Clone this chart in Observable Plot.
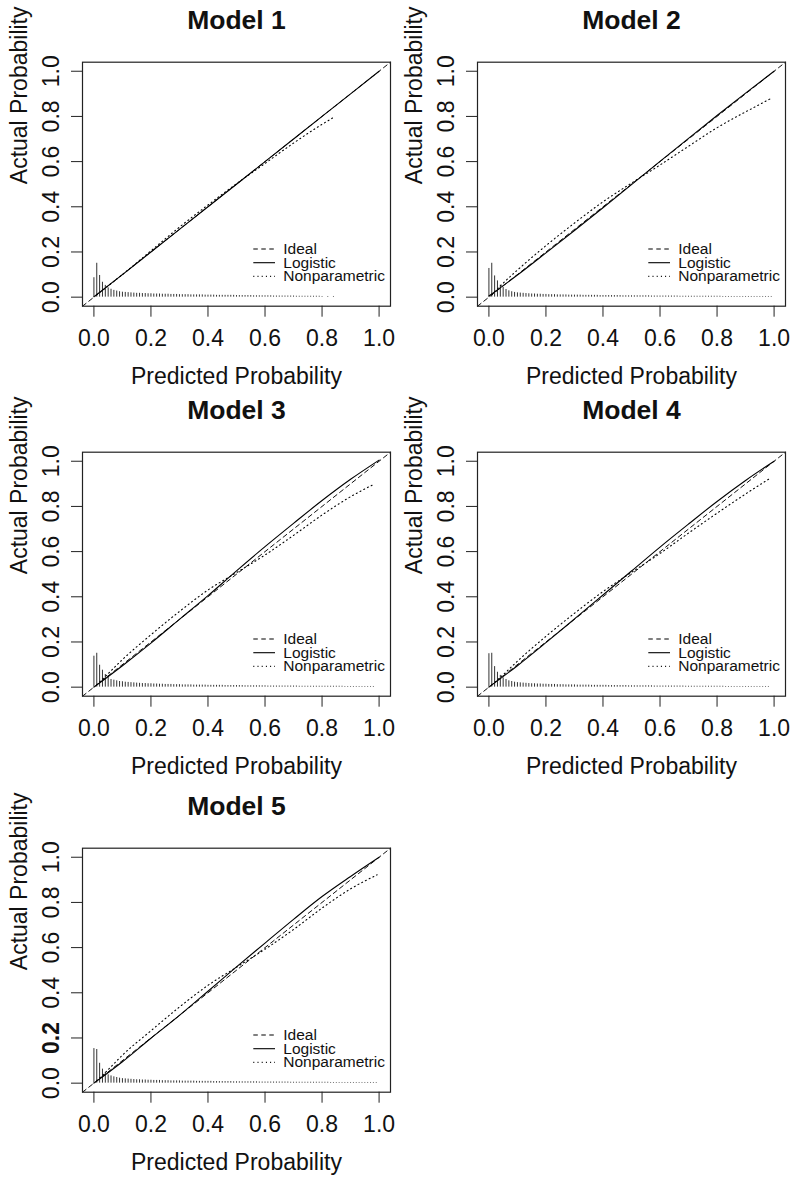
<!DOCTYPE html>
<html><head><meta charset="utf-8">
<script src="https://cdn.jsdelivr.net/npm/d3@7"></script>
<script src="https://cdn.jsdelivr.net/npm/@observablehq/plot@0.6"></script>
<style>
body{margin:0;background:#fff;}
#wrap{position:relative;width:794px;height:1180px;background:#fff;overflow:hidden}
.panel{position:absolute;width:395px;height:393px}
</style></head><body><div id="wrap"></div>
<script>
// ---------- data ----------
const titles = ["Model 1", "Model 2", "Model 3", "Model 4", "Model 5"];
const xLabel = "Predicted Probability";
const yLabel = "Actual Probability";
const xTicks = [0, 0.2, 0.4, 0.6, 0.8, 1.0];
const yTicks = [0, 0.2, 0.4, 0.6, 0.8, 1.0];
const limits = [-0.04, 1.04];
const legendLabels = ["Ideal", "Logistic", "Nonparametric"];
const boldYTicks = [[], [], [], [], [0.2]];

// logistic calibration curves, evaluated at logX
const logX = [0, 0.1, 0.2, 0.3, 0.4, 0.5, 0.6, 0.7, 0.8, 0.9, 1.0];
const log1 = [0.002, 0.1, 0.2, 0.3, 0.4, 0.5, 0.6, 0.7, 0.8, 0.9, 1.0];
const log2 = [0.005, 0.098, 0.196, 0.295, 0.396, 0.498, 0.601, 0.703, 0.804, 0.903, 1.0];
const log3 = [0.0, 0.095, 0.195, 0.3, 0.405, 0.515, 0.622, 0.725, 0.826, 0.92, 1.005];
const log4 = [0.0, 0.095, 0.197, 0.302, 0.408, 0.514, 0.62, 0.722, 0.822, 0.915, 1.0];
const log5 = [0.0, 0.095, 0.199, 0.3, 0.407, 0.515, 0.62, 0.725, 0.826, 0.915, 1.0];

// nonparametric (smoothed) curves
const np1X = [0.01, 0.05, 0.1, 0.2, 0.3, 0.4, 0.5, 0.6, 0.7, 0.8, 0.84];
const np1Y = [0.01, 0.05, 0.1, 0.205, 0.31, 0.408, 0.502, 0.592, 0.682, 0.765, 0.795];
const np2X = [0.01, 0.05, 0.1, 0.2, 0.3, 0.4, 0.5, 0.6, 0.7, 0.8, 0.9, 0.99];
const np2Y = [0.01, 0.062, 0.12, 0.228, 0.328, 0.422, 0.505, 0.585, 0.668, 0.75, 0.82, 0.88];
const np3X = [0.01, 0.05, 0.1, 0.2, 0.3, 0.4, 0.5, 0.6, 0.7, 0.8, 0.9, 0.985];
const np3Y = [0.01, 0.06, 0.122, 0.232, 0.335, 0.43, 0.507, 0.585, 0.672, 0.762, 0.843, 0.9];
const np4X = [0.01, 0.05, 0.1, 0.2, 0.3, 0.4, 0.5, 0.6, 0.7, 0.8, 0.9, 0.988];
const np4Y = [0.01, 0.055, 0.115, 0.225, 0.327, 0.423, 0.508, 0.592, 0.682, 0.77, 0.855, 0.926];
const np5X = [0.01, 0.05, 0.1, 0.2, 0.3, 0.4, 0.5, 0.6, 0.7, 0.8, 0.9, 0.993];
const np5Y = [0.01, 0.06, 0.124, 0.232, 0.337, 0.433, 0.513, 0.593, 0.68, 0.775, 0.86, 0.922];

// distribution of predicted risk: spike heights (x 0.001) at predicted = 0.00, 0.01, 0.02, ...
const h1 = [86,150,96,66,52,41,35,30,27,24,
 22,21,20,19,18,17,17,16,16,15,
 15,14,14,14,13,13,13,12,12,12,
 11,11,11,11,10,10,10,10,10,9,
 9,9,9,8,8,8,8,8,8,8,
 7,7,7,7,7,7,6,6,6,6,
 6,6,6,5,5,5,5,5,5,5,
 5,4,4,4,4,4,4,4,4,4,
 3,0,3,0,3];
const h2 = [127,150,94,72,53,43,34,28,24,21,
 19,18,17,16,15,14,14,13,13,12,
 12,11,11,11,10,10,10,10,9,9,
 9,9,9,8,8,8,8,8,8,7,
 7,7,7,7,7,7,7,6,6,6,
 6,6,6,6,6,6,6,5,5,5,
 5,5,5,5,5,5,5,4,4,4,
 4,4,4,4,4,4,4,4,4,4,
 4,4,3,3,3,3,3,3,3,3,
 3,3,3,3,3,3,3,3,3,3];
const h3 = [137,150,97,75,56,50,34,31,28,25,
 24,22,21,20,19,18,17,16,16,15,
 15,14,14,13,13,12,12,12,11,11,
 11,10,10,10,10,9,9,9,9,9,
 8,8,8,8,8,8,7,7,7,7,
 7,7,7,6,6,6,6,6,6,6,
 6,5,5,5,5,5,5,5,5,5,
 5,5,4,4,4,4,4,4,4,4,
 4,4,4,4,4,4,4,4,3,3,
 3,3,3,3,3,3,3,3,3];
const h4 = [148,150,91,66,52,41,34,28,25,22,
 20,19,18,17,16,15,15,14,14,13,
 13,12,12,12,11,11,11,10,10,10,
 10,9,9,9,9,9,8,8,8,8,
 8,8,7,7,7,7,7,7,7,6,
 6,6,6,6,6,6,6,6,5,5,
 5,5,5,5,5,5,5,5,5,4,
 4,4,4,4,4,4,4,4,4,4,
 4,4,4,3,3,3,3,3,3,3,
 3,3,3,3,3,3,3,3,3];
const h5 = [153,149,88,62,47,37,32,28,25,22,
 20,19,18,17,16,15,15,14,14,13,
 13,12,12,12,11,11,11,10,10,10,
 10,9,9,9,9,9,8,8,8,8,
 8,8,7,7,7,7,7,7,7,6,
 6,6,6,6,6,6,6,6,5,5,
 5,5,5,5,5,5,5,5,5,4,
 4,4,4,4,4,4,4,4,4,4,
 4,4,4,3,3,3,3,3,3,3,
 3,3,3,3,3,3,3,3,3,3];

const logistics = [log1, log2, log3, log4, log5];
const npXs = [np1X, np2X, np3X, np4X, np5X];
const npYs = [np1Y, np2Y, np3Y, np4Y, np5Y];
const spikeHeights = [h1, h2, h3, h4, h5];

// ---------- layout ----------
const FONT = "'Liberation Sans', Arial, Helvetica, sans-serif";
const W = 395, H = 393;
const ML = 82, MR = 5, MT = 61.7, MB = 87.3;
const panelPos = [[0, 0], [394.5, 0], [0, 390], [394.5, 390], [0, 785.6]];
const legendDash = ["4.5,3.5", null, "1,3.2"];

const wrap = document.getElementById("wrap");

function makePanel(k) {
  const spikes = spikeHeights[k].map((v, i) => ({x: i / 100, h: v / 1000})).filter(d => d.h > 0);
  const logistic = logX.map((x, i) => ({x, y: logistics[k][i]}));
  const nonpar = npXs[k].map((x, i) => ({x, y: npYs[k][i]}));
  const ideal = limits.map(v => ({x: v, y: v}));
  const normalY = yTicks.filter(t => !boldYTicks[k].includes(t));
  const boldY = yTicks.filter(t => boldYTicks[k].includes(t));
  const fmt = d => d.toFixed(1);

  const plot = Plot.plot({
    width: W, height: H,
    marginLeft: ML, marginRight: MR, marginTop: MT, marginBottom: MB,
    style: {fontFamily: FONT, fontSize: "23px", background: "transparent", color: "#111", overflow: "visible"},
    x: {domain: limits},
    y: {domain: limits},
    marks: [
      Plot.ruleX(spikes, {x: "x", y1: 0, y2: "h", stroke: "#333", strokeWidth: 1}),
      Plot.line(ideal, {x: "x", y: "y", stroke: "#111", strokeWidth: 1, strokeDasharray: "4.5,3.5"}),
      Plot.line(logistic, {x: "x", y: "y", curve: "monotone-x", stroke: "#000", strokeWidth: 1.1}),
      Plot.line(nonpar, {x: "x", y: "y", curve: "monotone-x", stroke: "#000", strokeWidth: 1.1, strokeDasharray: "1,3.2"}),
      Plot.frame({stroke: "#222", strokeWidth: 1.2}),
      Plot.axisX({ticks: xTicks, tickSize: 11, tickPadding: 12, tickFormat: fmt, label: null, stroke: "#222", fontSize: 23, fill: "#111"}),
      Plot.axisY({ticks: yTicks, tickSize: 11, tickFormat: () => "", label: null, stroke: "#222"}),
      Plot.text(normalY, {y: d => d, text: fmt, frameAnchor: "left", dx: -31, rotate: -90, textAnchor: "middle", lineAnchor: "middle", fontSize: 23, fill: "#111"}),
      Plot.text(boldY, {y: d => d, text: fmt, frameAnchor: "left", dx: -31, rotate: -90, textAnchor: "middle", lineAnchor: "middle", fontSize: 23, fontWeight: "bold", fill: "#111"}),
      Plot.text([xLabel], {frameAnchor: "bottom", dy: 70, lineAnchor: "middle", fontSize: 23, fill: "#111"}),
      Plot.text([yLabel], {frameAnchor: "left", dx: -62.7, rotate: -90, lineAnchor: "middle", fontSize: 23, fill: "#111"}),
      Plot.text([titles[k]], {frameAnchor: "top", dy: -41.7, lineAnchor: "middle", fontSize: 26.5, fontWeight: "bold", fill: "#111"})
    ]
  });

  // legend (drawn in pixel space relative to the plot frame)
  const svg = d3.select(plot);
  const g = svg.append("g").attr("font-family", FONT).attr("font-size", 15.5)
    .attr("fill", "#111").attr("text-anchor", "start");
  legendLabels.forEach((lab, i) => {
    const yb = MT + 192.3 + i * 13.7;
    const line = g.append("line")
      .attr("x1", ML + 171.3).attr("x2", ML + 193)
      .attr("y1", yb - 5).attr("y2", yb - 5)
      .attr("stroke", "#000").attr("stroke-width", 1.1);
    if (legendDash[i]) line.attr("stroke-dasharray", legendDash[i]);
    g.append("text").attr("x", ML + 201.3).attr("y", yb).attr("text-anchor", "start").text(lab);
  });

  const div = document.createElement("div");
  div.className = "panel";
  div.style.left = panelPos[k][0] + "px";
  div.style.top = panelPos[k][1] + "px";
  div.appendChild(plot);
  wrap.appendChild(div);
}

titles.forEach((t, k) => makePanel(k));
</script></body></html>
